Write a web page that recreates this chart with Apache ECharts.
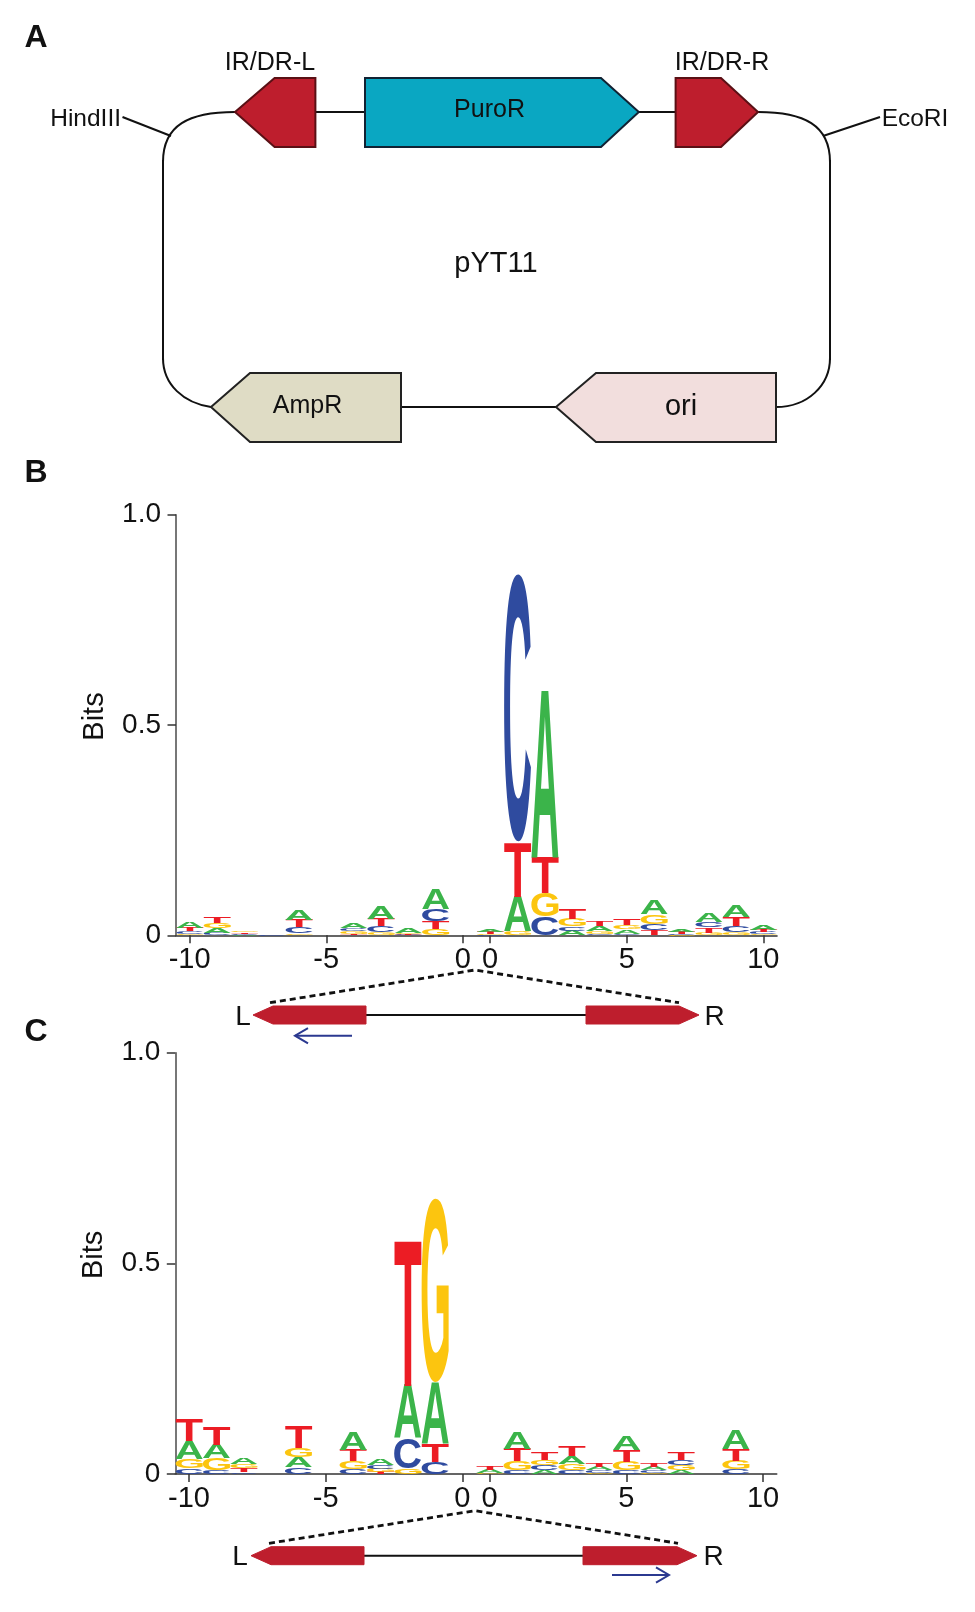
<!DOCTYPE html>
<html><head><meta charset="utf-8">
<style>html,body{margin:0;padding:0;background:#fff}#c{width:975px;height:1612px}</style>
<script src="https://cdn.jsdelivr.net/npm/echarts@6/dist/echarts.min.js"></script>
</head><body><div id="c"></div>
<script>
// Sequence positions (two flanks, each with its own 0)
const positions = ['-10','-9','-8','-7','-6','-5','-4','-3','-2','-1','0','0','1','2','3','4','5','6','7','8','9','10'];
const labelled = ['-10','-5','0','5','10'];
const letters = ['A','C','G','T'];
const letterColors = ['#3bb44a','#2f4b9f','#fcc50f','#ec1c24'];
// Panel B: bits per letter at each position
const bA = [.0143,.0111,.0004,0,.0247,0,.0127,.0287,.0104,.047,0,.0064,.081,.391,.0104,.0119,.0096,.0326,.0064,.0215,.0255,.0111];
const bC = [.0056,.0048,.0032,.0008,.0159,0,.0072,.0151,.0016,.0295,0,.0008,.642,.0454,.0105,.0032,.004,.0159,.0016,.0127,.0167,.0048];
const bG = [.004,.0127,.004,0,.004,0,.0064,.0064,.0024,.0143,0,.0016,.0103,.0557,.0175,.0072,.0104,.0231,.0008,.0064,.0064,.0024];
const bT = [.0072,.0151,.0036,0,.0167,0,.0032,.0167,.002,.0183,0,.0048,.126,.0844,.0239,.0127,.0143,.0111,.0048,.0119,.0199,.0056];
// Panel C: bits per letter at each position
const cA = [.0422,.0318,.0159,0,.0231,0,.0406,.0151,.125,.1433,0,.0072,.0374,.0088,.0175,.0088,.0334,.0088,.0088,0,.0462,0];
const cC = [.0135,.0096,.004,0,.0159,0,.0119,.0088,.0717,.0287,0,.0008,.0096,.0111,.008,.0064,.008,.0072,.0127,0,.0111,0];
const cG = [.0231,.0279,.0104,0,.0232,0,.0183,.008,.0127,.44,0,.0016,.0207,.0135,.0167,.0024,.0215,.0016,.0119,0,.0207,0];
const cT = [.0518,.0414,.0096,0,.0518,0,.0271,.0048,.3395,.0422,0,.008,.0295,.0191,.0247,.0096,.0279,.0096,.0191,0,.0271,0];

const SANS = '"Liberation Sans", Arial, sans-serif';
const LOGO_FONT = 'bold 60px "Liberation Sans"';
const mctx = document.createElement('canvas').getContext('2d');
mctx.font = LOGO_FONT; mctx.textBaseline = 'middle'; mctx.textAlign = 'left';
const ink = letters.map(l => { const m = mctx.measureText(l); return {l:m.actualBoundingBoxLeft, r:m.actualBoundingBoxRight, a:m.actualBoundingBoxAscent, d:m.actualBoundingBoxDescent}; });

function stacks(arrs){
  const rows = [];
  positions.forEach((_, i) => {
    const order = arrs.map((a, k) => [a[i], k]).filter(e => e[0] > 0).sort((p, q) => p[0] - q[0]);
    let y = 0;
    order.forEach(([h, k]) => { rows.push([i, y, y + h, k]); y += h; });
  });
  return rows;
}
function renderLetter(params, api){
  const i = api.value(0), k = api.value(3);
  const p0 = api.coord([i, api.value(1)]), p1 = api.coord([i, api.value(2)]);
  const w = api.size([1, 0])[0], H = Math.max(p0[1] - p1[1], .6), m = ink[k];
  const sx = w / (m.l + m.r), sy = H / (m.a + m.d);
  return {type:'text', x:p0[0] - w/2 + m.l*sx, y:p1[1] + m.a*sy, scaleX:sx, scaleY:sy, silent:true,
    style:{text:letters[k], x:0, y:0, font:LOGO_FONT, fill:letterColors[k], align:'left', verticalAlign:'middle'}};
}
const grids = [{left:176, width:601, top:514.7, height:420.6},{left:175.3, width:601.4, top:1052.7, height:421.3}];
const showIdx = (i, v) => labelled.includes(v);
const xAxes = grids.map((g, n) => ({gridIndex:n, type:'category', data:positions, boundaryGap:true,
  axisLine:{lineStyle:{color:'#333', width:1.6}, onZero:false},
  axisTick:{show:true, alignWithLabel:true, interval:showIdx, length:8, lineStyle:{color:'#333', width:1.5}},
  axisLabel:{interval:showIdx, fontFamily:SANS, fontSize:29, color:'#111', margin:10, hideOverlap:false, showMinLabel:true, showMaxLabel:true}}));
const yAxes = grids.map((g, n) => ({gridIndex:n, type:'value', min:0, max:1, interval:.5,
  name:'Bits', nameLocation:'middle', nameRotate:90, nameGap:67,
  nameTextStyle:{fontFamily:SANS, fontSize:29, color:'#111', padding:[0,0,0,17]},
  splitLine:{show:false},
  axisLine:{show:true, lineStyle:{color:'#555', width:1.6}},
  axisTick:{show:true, length:8.5, lineStyle:{color:'#333', width:1.5}},
  axisLabel:{fontFamily:SANS, fontSize:28, color:'#111', margin:15, padding:[0,0,1,0], formatter:v => v === 0 ? '0' : v.toFixed(1)}}));

const txt = (t, x, y, size, o={}) => ({type:'text', x, y, style:{text:t, x:0, y:0, font:(o.bold?'bold ':'')+size+'px "Liberation Sans"', fill:'#111', align:'center', verticalAlign:'middle'}, z:10});
const poly = (pts, fill, stroke, lw=2) => ({type:'polygon', shape:{points:pts}, style:{fill, stroke, lineWidth:lw, lineJoin:'miter'}, z:5});
const line = (pts, color='#111', lw=2, dash) => ({type:'polyline', shape:{points:pts}, style:{stroke:color, lineWidth:lw, fill:null, lineDash:dash||null}, z:3});
const bez = (a,b,c,d) => ({type:'bezierCurve', shape:{x1:a[0],y1:a[1],cpx1:b[0],cpy1:b[1],cpx2:c[0],cpy2:c[1],x2:d[0],y2:d[1]}, style:{stroke:'#111', lineWidth:2, fill:null}, z:3});
const RED = '#be1e2d';
function geneMap(yMid, xs, peak, dashY, dashX, arrow){
  const [l0, l1, l2, r0, r1, r2] = xs;
  const t = yMid - 9, b = yMid + 9;
  const [ay, a0, a1, ah] = arrow;
  return [
    poly([[l0,yMid],[l1,t],[l2,t],[l2,b],[l1,b]], RED, RED, 1),
    poly([[r0,t],[r1,t],[r2,yMid],[r1,b],[r0,b]], RED, RED, 1),
    line([[l2,yMid],[r0,yMid]], '#111', 2),
    line([[dashX[0],dashY],[475,peak],[dashX[1],dashY]], '#111', 2.8, [6,4]),
    line([[a0,ay],[a1,ay]], '#2b3990', 2),
    line([[ah,ay-7.6],[a1,ay],[ah,ay+7.6]], '#2b3990', 2)
  ];
}
const graphics = [
  txt('A', 36, 38.5, 32, {bold:true}), txt('B', 36, 473, 32, {bold:true}), txt('C', 36, 1032, 32, {bold:true}),
  txt('IR/DR-L', 270, 63, 25), txt('IR/DR-R', 722, 63, 25),
  txt('HindIII', 85.6, 119, 24.5), txt('EcoRI', 915, 119, 24.5),
  txt('PuroR', 489.5, 110, 25), txt('pYT11', 496, 264, 29), txt('AmpR', 307.5, 406, 25), txt('ori', 681, 407, 29),
  txt('L', 243, 1017, 28), txt('R', 714.5, 1017, 28), txt('L', 240, 1557, 28), txt('R', 713.5, 1557, 28),
  line([[122.5,117],[171,136]], '#111', 2), line([[880,117],[823,136]], '#111', 2),
  line([[315.4,112],[365,112]]), line([[638.8,112],[675.6,112]]), line([[401,407],[556,407]]),
  line([[163,160],[163,360]]), line([[830,160],[830,360]]),
  bez([235,112],[189,112],[163,125],[163,162]), bez([758,112],[804,112],[830,125],[830,162]),
  bez([163,358],[163,385],[184,403],[211,407]), bez([830,358],[830,385],[808,407],[776,407]),
  poly([[235,112],[274.6,78],[315.4,78],[315.4,147],[274.6,147]], RED, '#5a1015'),
  poly([[675.6,78],[721,78],[758,112],[721,147],[675.6,147]], RED, '#5a1015'),
  poly([[365,78],[601,78],[638.8,112],[601,147],[365,147]], '#0aa7c2', '#123'),
  poly([[211,407],[250,373],[401,373],[401,442],[250,442]], '#dfdcc5', '#222'),
  poly([[556,407],[596,373],[776,373],[776,442],[596,442]], '#f2dedd', '#222'),
  ...geneMap(1015, [253,273,366,586,679,699], 970, 1002.7, [270,679], [1035.7,352,295,308]),
  ...geneMap(1555.7, [251,271,364,583,677,697], 1510.7, 1543.3, [269,678], [1575,612,669,656])
];
const chart = echarts.init(document.getElementById('c'), null, {renderer:'canvas'});
chart.setOption({
  animation:false, backgroundColor:'#fff',
  grid:grids, xAxis:xAxes, yAxis:yAxes,
  series:[
    {type:'custom', xAxisIndex:0, yAxisIndex:0, clip:false, silent:true, data:stacks([bA,bC,bG,bT]), encode:{x:0,y:[1,2]}, renderItem:renderLetter},
    {type:'custom', xAxisIndex:1, yAxisIndex:1, clip:false, silent:true, data:stacks([cA,cC,cG,cT]), encode:{x:0,y:[1,2]}, renderItem:renderLetter}
  ],
  graphic:{elements:graphics}
});
</script></body></html>
